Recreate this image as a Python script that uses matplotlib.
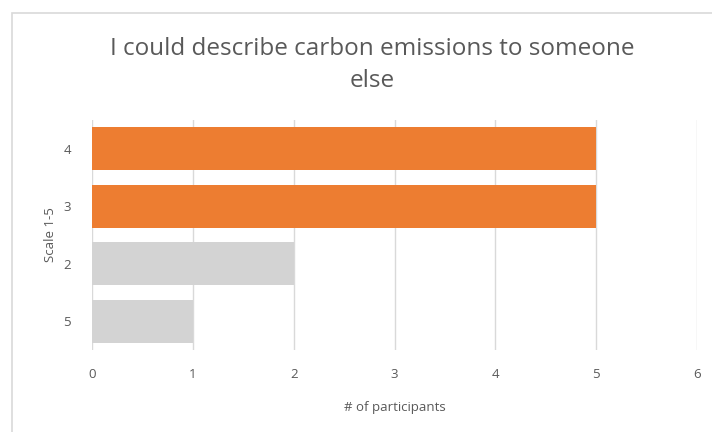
import matplotlib.pyplot as plt
from matplotlib.patches import Rectangle

# survey responses, bottom to top
categories = ['5', '2', '3', '4']
participants = [1, 2, 5, 5]
bar_colors = ['#D3D3D3', '#D3D3D3', '#ED7D31', '#ED7D31']

plt.rcParams['font.family'] = ['Open Sans', 'DejaVu Sans']
GRAY = '#595959'

fig = plt.figure(figsize=(7.12, 4.32), dpi=100)
fig.patches.append(Rectangle((12/712, -0.1), 1.2, 1 - 13/432 + 0.1, transform=fig.transFigure,
                             fill=False, edgecolor='#D9D9D9', linewidth=1.2))

ax = fig.add_axes([92/712, 1 - 350/432, 605/712, 230/432])
ax.barh(range(len(categories)), participants, height=0.75, color=bar_colors, zorder=2)
ax.set_yticks(range(len(categories)))
ax.set_yticklabels(categories)
ax.set_ylim(-0.5, len(categories) - 0.5)
ax.set_xlim(0, 6)
ax.set_xticks(range(0, 7))
ax.grid(axis='x', color='#D9D9D9', linewidth=1, zorder=0)
for s in ax.spines.values():
    s.set_visible(False)
ax.tick_params(length=0, labelsize=9.5, colors=GRAY, pad=13)
ax.tick_params(axis='y', pad=15)
ax.set_xlabel('# of participants', fontsize=9.5, color=GRAY, labelpad=14)
ax.set_ylabel('Scale 1-5', fontsize=9.5, color=GRAY, labelpad=5)

fig.text(372/712, 1 - 65/432, 'I could describe carbon emissions to someone\nelse',
         ha='center', va='center', fontsize=17.5, color=GRAY, linespacing=1.4)

fig.savefig('out.png', dpi=100)
